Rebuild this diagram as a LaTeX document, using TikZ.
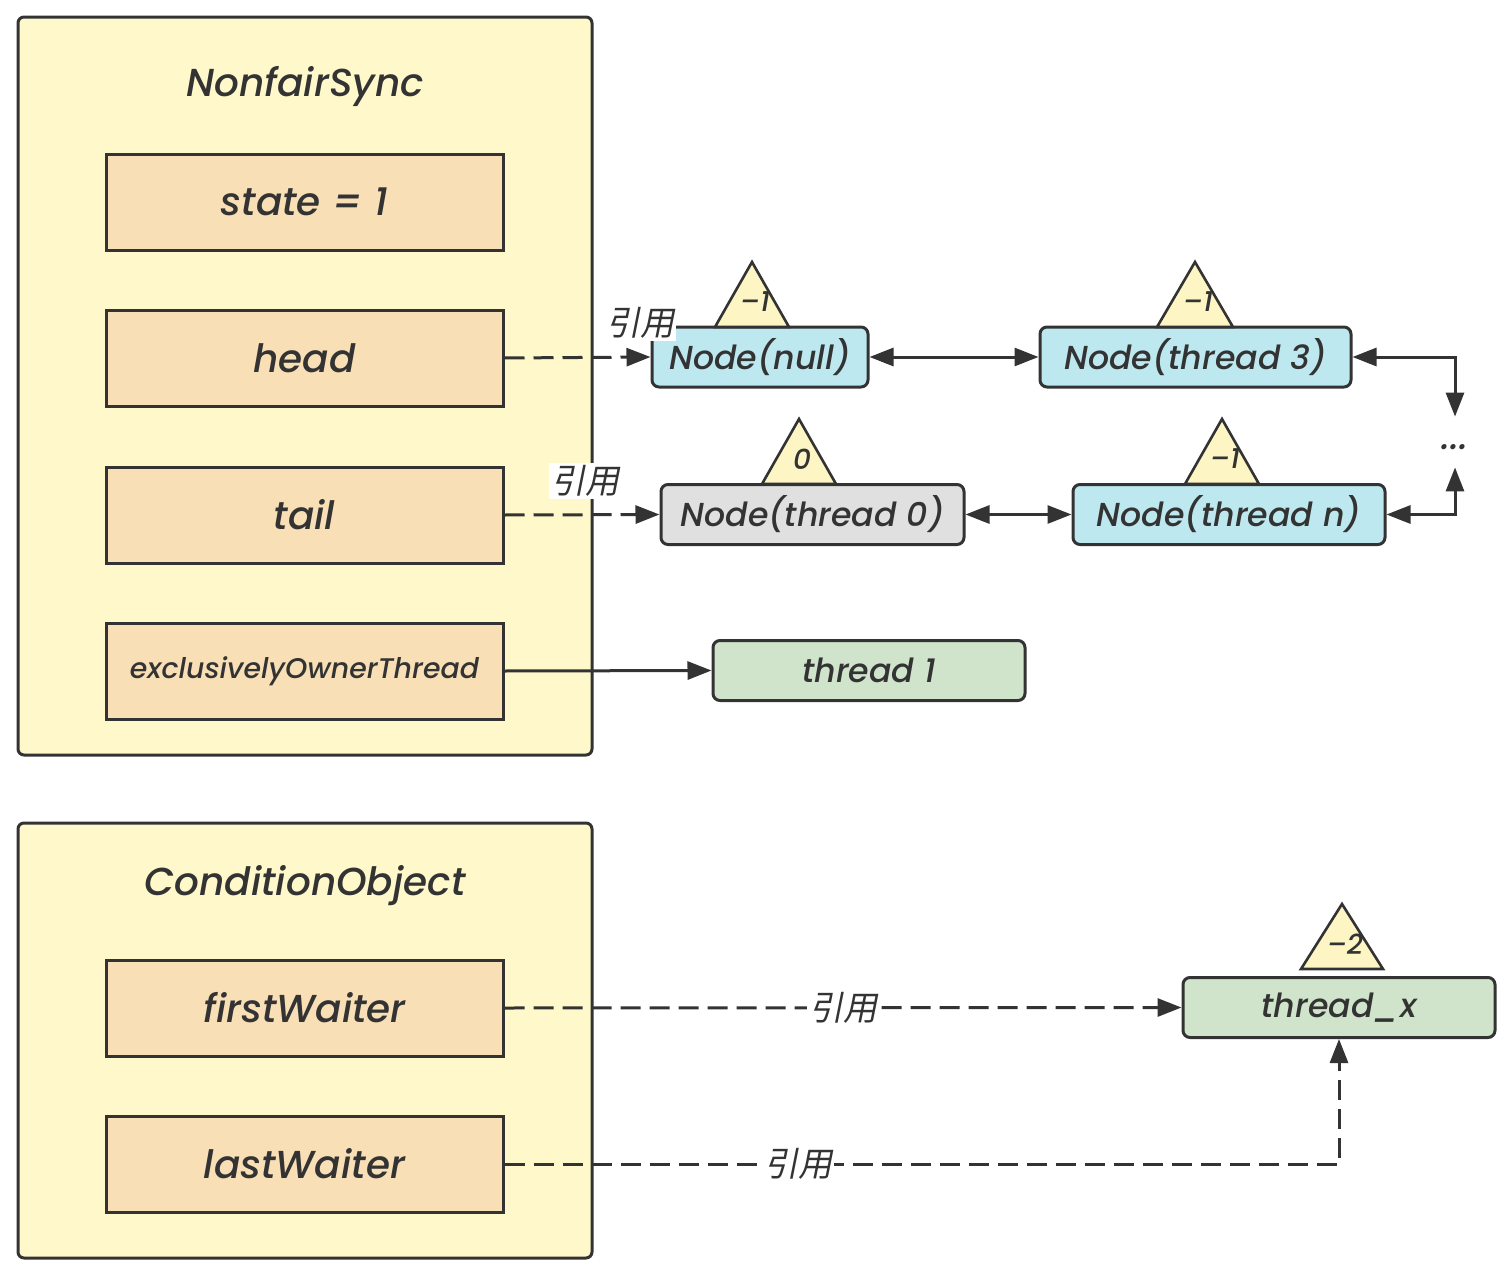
\documentclass[tikz,border=0pt]{standalone}
\usepackage{fontspec}
\setmainfont{Poppins}[ItalicFont={Poppins Medium Italic}]
\newfontfamily\cjk[FakeSlant=0.2]{Noto Sans CJK SC}
\usetikzlibrary{arrows.meta}
\definecolor{ln}{HTML}{333333}
\definecolor{outerfill}{HTML}{FEF8CA}
\definecolor{wheat}{HTML}{F9DFB6}
\definecolor{nblue}{HTML}{BDE8EF}
\definecolor{ngrey}{HTML}{E0E0E0}
\definecolor{ngreen}{HTML}{CFE4CB}
\definecolor{trifill}{HTML}{FDF5C4}
\tikzset{
  outerbox/.style={draw=ln, line width=1.5pt, fill=outerfill, rounded corners=3pt, inner sep=0pt},
  title/.style={font=\fontsize{19.5}{23}\selectfont\itshape, text=ln},
  field/.style={draw=ln, line width=1.5pt, fill=wheat, minimum width=198.5pt, minimum height=48pt, inner sep=0pt, text=ln, font=\fontsize{19.5}{23}\selectfont\itshape},
  qnode/.style={draw=ln, line width=1.5pt, rounded corners=3.5pt, minimum height=30pt, inner sep=0pt, text=ln, font=\fontsize{16.6}{19}\selectfont\itshape},
  tri/.style={draw=ln, line width=1.3pt, fill=trifill, line join=miter},
  trilbl/.style={text=ln, font=\fontsize{14}{16}\selectfont\itshape, inner sep=0pt},
  ref/.style={fill=white, text=ln, inner sep=1pt, font=\fontsize{17}{20}\selectfont\cjk},
  conn/.style={draw=ln, line width=1.5pt, -{Triangle[length=12pt,width=9pt]}},
  dconn/.style={conn, dash pattern=on 10pt off 4.5pt},
  bconn/.style={draw=ln, line width=1.5pt, {Triangle[length=12pt,width=9pt]}-{Triangle[length=12pt,width=9pt]}},
}
\newcommand{\mytri}[5]{% name, apex x, base y, halfwidth, label
  \draw[tri] (#2-#4,#3) -- (#2,#3-65) -- (#2+#4,#3) -- cycle;
  \node[trilbl] (#1) at (#2+3,#3-25) {#5};
}
\begin{document}
\begin{tikzpicture}[x=0.5pt,y=-0.5pt]
\useasboundingbox (0,0) rectangle (1512,1274);
% containers
\node[outerbox, minimum width=287pt, minimum height=369pt] (ns) at (305,386) {};
\node[title] (nstitle) at (305,86) {NonfairSync};
\node[outerbox, minimum width=287pt, minimum height=217.5pt] (co) at (305,1040.5) {};
\node[title] (cotitle) at (305,886) {ConditionObject};
% fields
\node[field] (state) at (304.5,202) {state = 1};
\node[field] (head) at (304.5,358) {head};
\node[field] (tail) at (304.5,515) {tail};
\node[field, font=\fontsize{14.2}{17}\selectfont\itshape] (excl) at (304.5,671) {exclusivelyOwnerThread};
\node[field] (first) at (304.5,1008) {firstWaiter};
\node[field] (last) at (304.5,1164) {lastWaiter};
% queue nodes
\node[qnode, fill=nblue, minimum width=108pt] (nnull) at (760,357) {Node(null)};
\node[qnode, fill=nblue, minimum width=155.5pt] (n3) at (1195.5,357) {Node(thread 3)};
\node[qnode, fill=ngrey, minimum width=151.5pt] (n0) at (812.5,514.5) {Node(thread 0)};
\node[qnode, fill=nblue, minimum width=156pt] (nn) at (1229,514.5) {Node(thread n)};
\node[qnode, fill=ngreen, minimum width=156pt] (t1) at (869,670.5) {thread 1};
\node[qnode, fill=ngreen, minimum width=156pt] (tx) at (1339,1007.5) {thread\_x};
\node[minimum height=25pt, minimum width=10pt, inner sep=0pt] (dots) at (1455,442) {};
\node[text=ln, font=\fontsize{18}{20}\selectfont\itshape, inner sep=0pt] (dotstxt) at (1455,447) {...};
% triangles
\mytri{tnull}{752}{327}{37}{–1}
\mytri{tthree}{1195}{327}{38}{–1}
\mytri{tzero}{799}{484}{37}{0}
\mytri{tn}{1222}{484}{37}{–1}
\mytri{tx2}{1342}{969}{41}{–2}
% connectors
\draw[dconn] (head.east) -- (nnull.west);
\node[ref] (rhead) at (640,323) {引用};
\draw[bconn] (nnull.east) -- (n3.west);
\draw[bconn] (n3.east) -| (dots.north);
\draw[bconn] (nn.east) -| (dots.south);
\draw[dconn] (tail.east) -- (n0.west);
\node[ref] (rtail) at (585,481) {引用};
\draw[bconn] (n0.east) -- (nn.west);
\draw[conn] (excl.east) -- (t1.west);
\draw[dconn] (first.east) -- node[ref] (rfirst) {引用} (tx.west);
\draw[dconn] (last.east) -| node[ref, pos=0.176] (rlast) {引用} (tx.south);
\end{tikzpicture}
\end{document}
